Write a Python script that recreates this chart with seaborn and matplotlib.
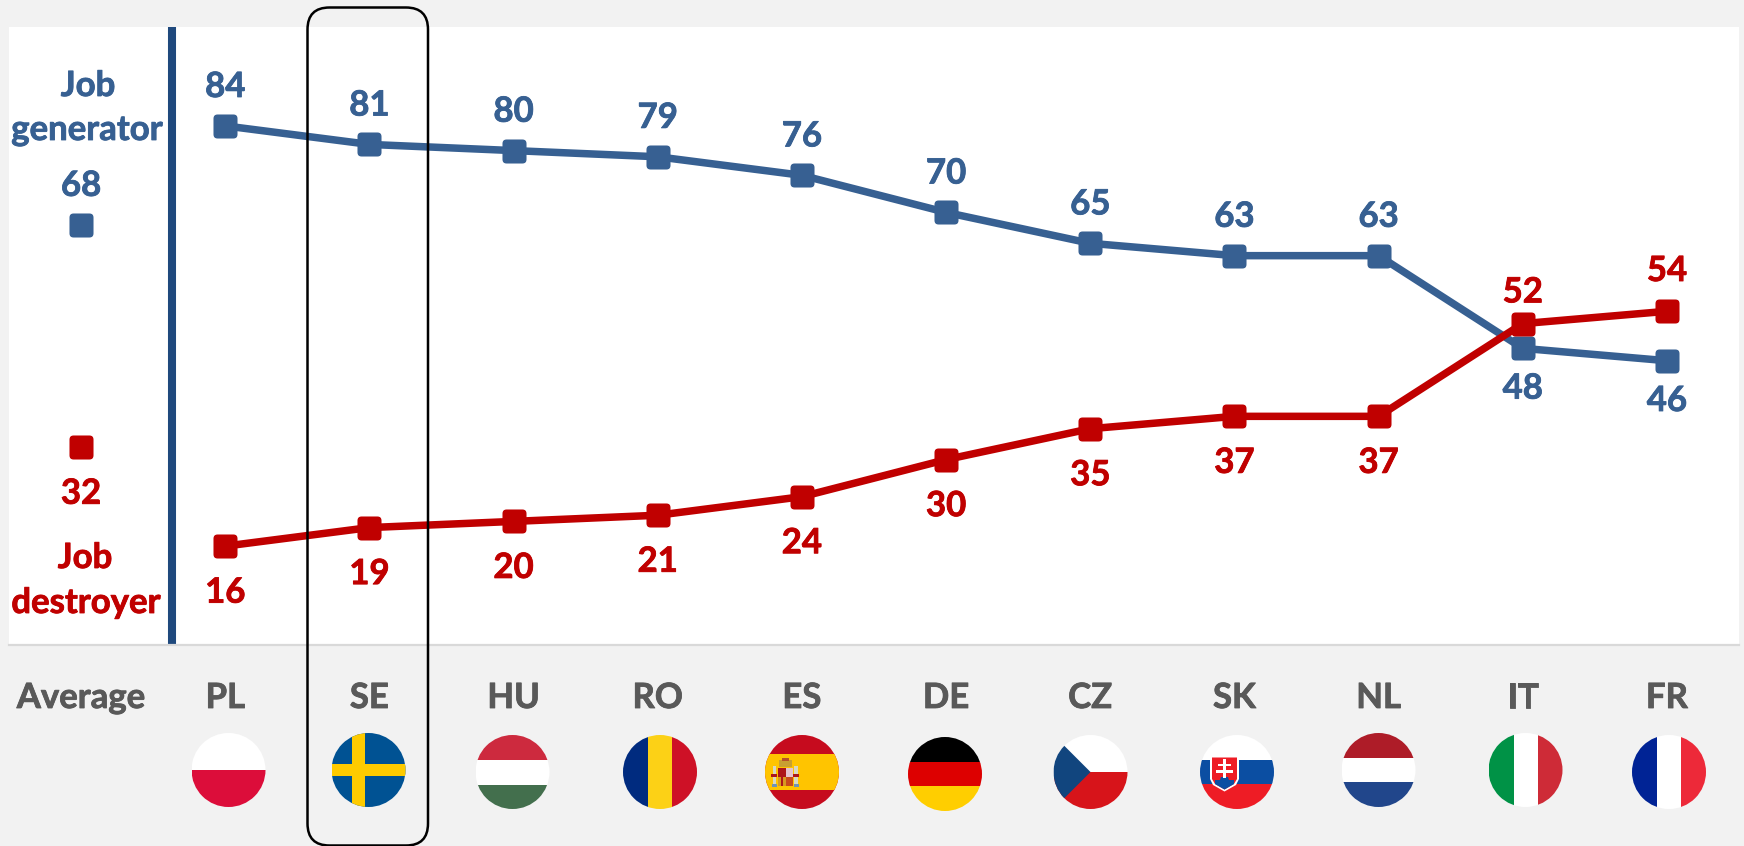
"""Job generator / job destroyer by country."""
import matplotlib

matplotlib.use("Agg")
import matplotlib.patheffects as pe
import matplotlib.pyplot as plt
import pandas as pd
import seaborn as sns
from matplotlib.patches import Circle, FancyBboxPatch, Polygon, Rectangle
from matplotlib.path import Path

LABELS = ["Average", "PL", "SE", "HU", "RO", "ES", "DE", "CZ", "SK", "NL", "IT", "FR"]
GENERATOR = [68, 84, 81, 80, 79, 76, 70, 65, 63, 63, 48, 46]
DESTROYER = [32, 16, 19, 20, 21, 24, 30, 35, 37, 37, 52, 54]

BLUE = "#376092"
RED = "#C00000"
DARK_BLUE = "#1F497D"
GREY_TEXT = "#595959"
BG = "#F2F2F2"
FONT = "Lato"
FS = 25

FLAG_CENTRES = {
    "PL": (228.5, 770), "SE": (368.5, 770), "HU": (512.5, 772), "RO": (660, 772),
    "ES": (802, 772), "DE": (945, 774), "CZ": (1090.5, 772), "SK": (1237, 772),
    "NL": (1378.5, 770), "IT": (1525.5, 770), "FR": (1669, 772),
}
FLAG_R = 37


def heavy(color):
    # Lato bold runs a little lighter than the reference face
    return [pe.withStroke(linewidth=0.6, foreground=color)]


def rounded_square(r=0.17):
    s = 0.5
    verts = [
        (-s + r, -s), (s - r, -s), (s, -s), (s, -s + r), (s, s - r), (s, s),
        (s - r, s), (-s + r, s), (-s, s), (-s, s - r), (-s, -s + r), (-s, -s),
        (-s + r, -s), (-s + r, -s),
    ]
    codes = [
        Path.MOVETO, Path.LINETO, Path.CURVE3, Path.CURVE3, Path.LINETO, Path.CURVE3,
        Path.CURVE3, Path.LINETO, Path.CURVE3, Path.CURVE3, Path.LINETO, Path.CURVE3,
        Path.CURVE3, Path.CLOSEPOLY,
    ]
    return Path(verts, codes)


def flag_shapes(code):
    """Rectangles and polygons of one flag, relative to its centre (y down)."""
    R = FLAG_R
    def hband(y0, y1, c):
        return Rectangle((-R, y0), 2 * R, y1 - y0, color=c, lw=0)
    def vband(x0, x1, c):
        return Rectangle((x0, -R), x1 - x0, 2 * R, color=c, lw=0)
    def box(x0, y0, x1, y1, c):
        return Rectangle((x0, y0), x1 - x0, y1 - y0, color=c, lw=0)

    if code == "PL":
        return [hband(-R, 0, "white"), hband(0, R, "#DC0D3A")]
    if code == "SE":
        return [hband(-R, R, "#005293"), vband(-17, -4, "#FECB00"), hband(-6, 6, "#FECB00")]
    if code == "HU":
        return [hband(-R, -12, "#CD2A3E"), hband(-12, 13, "white"), hband(13, R, "#436F4D")]
    if code == "RO":
        return [vband(-R, -12, "#002B7F"), vband(-12, 12, "#FCD116"), vband(12, R, "#CE1126")]
    if code == "ES":
        return [
            hband(-R, R, "#C60B1E"), hband(-18, 18.5, "#FFC400"),
            box(-23, -12, -10, -5, "#C8A032"), box(-20, -14, -13, -11, "#B5502A"),
            box(-24, -4, -16, 5, "#AD1519"), box(-16, -4, -9, 5, "#E4C4D0"),
            box(-24, 5, -16, 14, "#D89A20"), box(-21, 5, -19, 14, "#AD1519"),
            box(-16, 5, -9, 14, "#C84A1C"),
            box(-29.5, -6, -26, 15, "#D8D8C4"), box(-8, -6, -4, 15, "#D8D8C4"),
            box(-31, 2, -25, 5, "#AD1519"), box(-9, 2, -3, 5, "#AD1519"),
            box(-30, 12, -25.5, 15, "#6F93B5"), box(-8.5, 12, -3.5, 15, "#6F93B5"),
        ]
    if code == "DE":
        return [hband(-R, -12, "black"), hband(-12, 12, "#DD0000"), hband(12, R, "#FFCE00")]
    if code == "CZ":
        return [
            hband(-R, 0, "white"), hband(0, R, "#D7141A"),
            Polygon([(-37, -37), (0, 0), (-37, 37)], closed=True, color="#11457E", lw=0),
        ]
    if code == "SK":
        shield = [(-27, -16), (2, -16), (2, 7), (-1, 13), (-12.5, 19.5), (-24, 13), (-27, 7)]
        inner = [(-25, -14.5), (0, -14.5), (0, 7), (-3, 12), (-12.5, 17.5), (-22, 12), (-25, 7)]
        hills = [(-22, 12), (-22, 8), (-17, 8), (-16, 5), (-9, 5), (-8, 8), (-3, 8), (-3, 12), (-12.5, 17.5)]
        return [
            hband(-R, -12, "white"), hband(-12, 12, "#0B4EA2"), hband(12, R, "#EE1C25"),
            Polygon(shield, closed=True, color="white", lw=0),
            Polygon(inner, closed=True, color="#EE1C25", lw=0),
            Polygon(hills, closed=True, color="#0B4EA2", lw=0),
            box(-14, -13, -11, 6, "white"),
            box(-19, -8, -6, -5.5, "white"), box(-21, -2, -4, 1, "white"),
        ]
    if code == "NL":
        return [hband(-R, -12, "#AE1C28"), hband(-12, 12.5, "white"), hband(12.5, R, "#21468B")]
    if code == "IT":
        return [vband(-R, -12, "#009246"), vband(-12, 12, "white"), vband(12, R, "#CE2B37")]
    return [vband(-R, -12, "#002395"), vband(-12, 12, "white"), vband(12, R, "#ED2939")]


def draw_flag(ax, code, cx, cy):
    clip = Circle((cx, cy), FLAG_R, transform=ax.transData, fc="none", ec="none")
    ax.add_patch(clip)
    for shape in flag_shapes(code):
        if isinstance(shape, Rectangle):
            x, y = shape.get_xy()
            shape.set_xy((x + cx, y + cy))
        else:
            xy = shape.get_xy()
            xy[:, 0] += cx
            xy[:, 1] += cy
            shape.set_xy(xy)
        ax.add_patch(shape)
        shape.set_clip_path(clip)


sns.set_theme(style="white")
plt.rcParams["font.family"] = [FONT, "DejaVu Sans"]
plt.rcParams["font.weight"] = "bold"

W, H = 1744, 846
fig = plt.figure(figsize=(W / 100, H / 100), dpi=100, facecolor=BG)
ax = fig.add_axes([9 / W, (H - 645) / H, 1730 / W, 618 / H], facecolor="white")

pos = list(range(len(LABELS)))
df = pd.DataFrame({
    "pos": pos * 2,
    "value": GENERATOR + DESTROYER,
    "series": ["gen"] * len(pos) + ["des"] * len(pos),
})
palette = {"gen": BLUE, "des": RED}
marker = rounded_square()

# the average stands apart, so it only gets its marker
sns.lineplot(
    data=df[df["pos"] > 0], x="pos", y="value", hue="series", hue_order=["gen", "des"],
    palette=palette, errorbar=None, legend=False, ax=ax, linewidth=5.4,
    marker=marker, markersize=17.3, markeredgewidth=0, zorder=3,
)
sns.lineplot(
    data=df[df["pos"] == 0], x="pos", y="value", hue="series", hue_order=["gen", "des"],
    palette=palette, errorbar=None, legend=False, ax=ax, linewidth=0,
    marker=marker, markersize=17.3, markeredgewidth=0, zorder=3,
)

ax.set_xlim(-0.5, 11.5)
ax.set_ylim(0, 100)
ax.set_xlabel("")
ax.set_ylabel("")
ax.set_yticks([])
ax.set_xticks(pos)
ax.set_xticklabels(LABELS, fontsize=FS, color=GREY_TEXT, fontweight="bold")
ax.tick_params(axis="x", length=0, pad=0)
for lab in ax.get_xticklabels():
    lab.set_transform(ax.get_xaxis_transform())
    lab.set_y(-53 / 618)
    lab.set_verticalalignment("center")
    lab.set_path_effects(heavy(GREY_TEXT))
for side in ["top", "left", "right"]:
    ax.spines[side].set_visible(False)
ax.spines["bottom"].set_color("#D9D9D9")
ax.spines["bottom"].set_linewidth(1.6)

ax.axvline(0.632, color=DARK_BLUE, lw=5.8, solid_capstyle="butt", zorder=2)

# value labels, above or below the marker depending on the series
for i, (g, d) in enumerate(zip(GENERATOR, DESTROYER)):
    gen_off = 28 if g > d else -29
    des_off = 29 if d == 54 else 22.5 if d == 52 else -33.5
    ax.annotate(str(g), (i, g), xytext=(0, gen_off), textcoords="offset points",
                ha="center", va="center", color=BLUE, fontsize=FS, fontweight="bold",
                zorder=4, path_effects=heavy(BLUE))
    ax.annotate(str(d), (i, d), xytext=(0, des_off), textcoords="offset points",
                ha="center", va="center", color=RED, fontsize=FS, fontweight="bold",
                zorder=4, path_effects=heavy(RED))

# overlay in pixel coordinates for the side labels, flags and highlight box
over = fig.add_axes([0, 0, 1, 1], facecolor="none", zorder=5)
over.set_xlim(0, W)
over.set_ylim(H, 0)
over.axis("off")

for txt, x, y, col in [
    ("Job", 88, 86, BLUE), ("generator", 87, 130, BLUE),
    ("Job", 85, 558, RED), ("destroyer", 86, 603, RED),
]:
    over.text(x, y, txt, ha="center", va="center", color=col, fontsize=FS,
              fontweight="bold", path_effects=heavy(col))

for code, (cx, cy) in FLAG_CENTRES.items():
    draw_flag(over, code, cx, cy)

over.add_patch(FancyBboxPatch(
    (307.5, 7.5), 120.5, 838, boxstyle="round,pad=0,rounding_size=22",
    fc="none", ec="black", lw=1.8, clip_on=False,
))

fig.savefig("out.png", dpi=100, facecolor=BG)
plt.close(fig)
